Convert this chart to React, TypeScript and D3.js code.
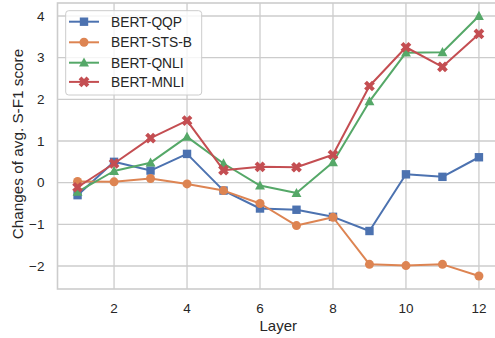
import React from "react";
import * as d3 from "d3";

const layers = [1, 2, 3, 4, 5, 6, 7, 8, 9, 10, 11, 12];
const qqp = [-0.3, 0.5, 0.29, 0.69, -0.19, -0.62, -0.65, -0.82, -1.16, 0.2, 0.14, 0.61];
const stsb = [0.03, 0.02, 0.1, -0.03, -0.19, -0.5, -1.03, -0.83, -1.96, -1.99, -1.96, -2.24];
const qnli = [-0.22, 0.28, 0.48, 1.1, 0.46, -0.07, -0.25, 0.49, 1.95, 3.12, 3.13, 4.0];
const mnli = [-0.11, 0.46, 1.07, 1.49, 0.3, 0.38, 0.37, 0.67, 2.32, 3.25, 2.78, 3.57];
const seriesNames = ["BERT-QQP", "BERT-STS-B", "BERT-QNLI", "BERT-MNLI"];
const xTicks = [2, 4, 6, 8, 10, 12];
const yTicks = [-2, -1, 0, 1, 2, 3, 4];

const colors = ["#4c72b0", "#dd8452", "#55a868", "#c44e52"];
const markers = ["square", "circle", "triangle", "x"];

const W = 495;
const H = 338;
const left = 57.5;
const right = 499;
const top = 3;
const bottom = 289;
const FONT = "'Liberation Sans', Arial, 'DejaVu Sans', sans-serif";
const TXT = "#262626";
const GRID = "#cccccc";

function Marker({ kind, x, y, color }: { kind: string; x: number; y: number; color: string }) {
  if (kind === "square") {
    const s = 8.4;
    return <rect x={x - s / 2} y={y - s / 2} width={s} height={s} fill={color} />;
  }
  if (kind === "circle") {
    return <circle cx={x} cy={y} r={4.5} fill={color} />;
  }
  if (kind === "triangle") {
    const r = 5.2;
    const p = [
      [x, y - r],
      [x - r * 0.95, y + r * 0.75],
      [x + r * 0.95, y + r * 0.75],
    ];
    return <polygon points={p.map((q) => q.join(",")).join(" ")} fill={color} />;
  }
  const a = 5.6;
  const w = 2.0;
  const pts = [
    [w, a], [w, w], [a, w], [a, -w], [w, -w], [w, -a],
    [-w, -a], [-w, -w], [-a, -w], [-a, w], [-w, w], [-w, a],
  ];
  return (
    <polygon
      points={pts.map((q) => q.join(",")).join(" ")}
      transform={`translate(${x},${y}) rotate(45)`}
      fill={color}
    />
  );
}

export default function App() {
  const data = [qqp, stsb, qnli, mnli];
  const allY = data.flat();
  const ymin = d3.min(allY)!;
  const ymax = d3.max(allY)!;
  const ypad = (ymax - ymin) * 0.05;
  const xpad = (layers[layers.length - 1] - layers[0]) * 0.05;

  const x = d3.scaleLinear().domain([layers[0] - xpad, layers[layers.length - 1] + xpad]).range([left, right]);
  const y = d3.scaleLinear().domain([ymin - ypad, ymax + ypad]).range([bottom, top]);

  const line = d3
    .line<number>()
    .x((_, i) => x(layers[i]))
    .y((d) => y(d));

  const legX = 65.7;
  const legY = 10.7;
  const legW = 136;
  const legH = 84.3;
  const rowY = [21.7, 42.3, 62.7, 81.9];

  return (
    <svg
      width={W}
      height={H}
      style={{ position: "fixed", left: 0, top: 0, background: "#ffffff" }}
      fontFamily={FONT}
    >
      <rect x={0} y={0} width={W} height={H} fill="#ffffff" />
      {xTicks.map((t) => (
        <line key={"gx" + t} x1={x(t)} x2={x(t)} y1={top} y2={bottom} stroke={GRID} strokeWidth={1.3} />
      ))}
      {yTicks.map((t) => (
        <line key={"gy" + t} x1={left} x2={right} y1={y(t)} y2={y(t)} stroke={GRID} strokeWidth={1.3} />
      ))}
      <rect x={left} y={top} width={right - left} height={bottom - top} fill="none" stroke={GRID} strokeWidth={1.6} />

      {xTicks.map((t) => (
        <text key={"tx" + t} x={x(t)} y={bottom + 23.5} textAnchor="middle" fontSize={13.5} fill={TXT}>
          {t}
        </text>
      ))}
      {yTicks.map((t) => (
        <text key={"ty" + t} x={44.5} y={y(t) + 4.8} textAnchor="end" fontSize={13.5} fill={TXT}>
          {t < 0 ? "\u2212" + Math.abs(t) : t}
        </text>
      ))}
      <text x={(left + right) / 2} y={331} textAnchor="middle" fontSize={15} fill={TXT}>
        Layer
      </text>
      <text
        transform={`translate(23,${(top + bottom) / 2 - 2}) rotate(-90)`}
        textAnchor="middle"
        fontSize={15.3}
        fill={TXT}
      >
        Changes of avg. S-F1 score
      </text>

      {data.map((vals, si) => (
        <g key={"s" + si}>
          <path d={line(vals) || ""} fill="none" stroke={colors[si]} strokeWidth={2} strokeLinejoin="round" strokeLinecap="round" />
          {vals.map((v, i) => (
            <Marker key={i} kind={markers[si]} x={x(layers[i])} y={y(v)} color={colors[si]} />
          ))}
        </g>
      ))}

      <rect x={legX} y={legY} width={legW} height={legH} rx={3} fill="#ffffff" fillOpacity={0.8} stroke={GRID} strokeWidth={1} />
      {seriesNames.map((n, i) => (
        <g key={"l" + i}>
          <line x1={69} x2={99} y1={rowY[i]} y2={rowY[i]} stroke={colors[i]} strokeWidth={2} />
          <Marker kind={markers[i]} x={84} y={rowY[i]} color={colors[i]} />
          <text x={111} y={rowY[i] + 5} fontSize={13.8} fill={TXT}>
            {n}
          </text>
        </g>
      ))}
    </svg>
  );
}
